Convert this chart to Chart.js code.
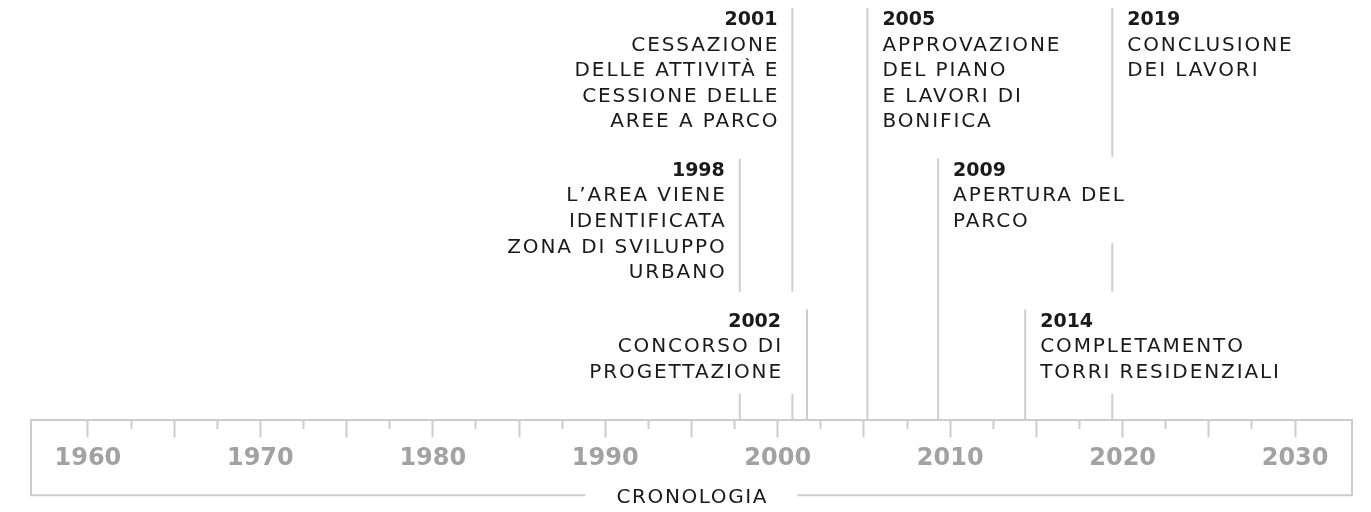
<!DOCTYPE html>
<html lang="it">
<head>
<meta charset="utf-8">
<title>Cronologia</title>
<script src="https://cdn.jsdelivr.net/npm/chart.js@4.4.1/dist/chart.umd.min.js"></script>
<style>
    html, body { margin: 0; padding: 0; background: #fff; }
    #wrap { width: 1371px; height: 512px; }
</style>
</head>
<body>
<div id="wrap"><canvas id="timeline" width="1371" height="512"></canvas></div>
<script>
// Events, in chronological order
const eventYears = ['1998', '2001', '2002', '2005', '2009', '2014', '2019'];
// where each event line sits on the axis
const eventPositions = [1997.8, 2000.85, 2001.7, 2005.2, 2009.3, 2014.35, 2019.4];
// label row: 3 = top, 2 = middle, 1 = bottom
const eventRows = [2, 3, 1, 3, 2, 1, 3];
const eventTexts = [
    ['L\u2019AREA VIENE', 'IDENTIFICATA', 'ZONA DI SVILUPPO', 'URBANO'],
    ['CESSAZIONE', 'DELLE ATTIVIT\u00c0 E', 'CESSIONE DELLE', 'AREE A PARCO'],
    ['CONCORSO DI', 'PROGETTAZIONE'],
    ['APPROVAZIONE', 'DEL PIANO', 'E LAVORI DI', 'BONIFICA'],
    ['APERTURA DEL', 'PARCO'],
    ['COMPLETAMENTO', 'TORRI RESIDENZIALI'],
    ['CONCLUSIONE', 'DEI LAVORI']
];

// Axis
const axisMin = 1956.7;
const axisMax = 2033.3;
const labelledYears = [1960, 1970, 1980, 1990, 2000, 2010, 2020, 2030];
const tickStep = 2.5;
const axisTitle = 'CRONOLOGIA';

const FONT = '"DejaVu Sans", sans-serif';
const LINE_COLOR = '#cdcdcd';
const TEXT_COLOR = '#1a1a1a';
const ROW_BOTTOM = 0.265; // y value of the axis line

// Year + description next to each event line, with a white backing that
// hides the lines of other events running behind the text
const eventLabels = {
    id: 'eventLabels',
    afterDatasetsDraw(chart, args, opts) {
        const ctx = chart.ctx;
        const xs = chart.scales.x;
        const ys = chart.scales.y;

        const blocks = eventYears.map((year, i) => {
            const lineX = xs.getPixelForValue(eventPositions[i]);
            const top = ys.getPixelForValue(eventRows[i]);
            const toLeft = eventPositions[i] < opts.splitYear;
            const gap = opts.gapOverride[year] || opts.gap;
            const lines = [year].concat(eventTexts[i]);

            let width = 0;
            lines.forEach((t, k) => {
                ctx.font = k === 0 ? opts.yearFont : opts.textFont;
                ctx.letterSpacing = k === 0 ? '0px' : opts.letterSpacing;
                width = Math.max(width, ctx.measureText(t).width);
            });
            ctx.letterSpacing = '0px';

            const anchor = toLeft ? lineX - gap : lineX + gap;
            const left = toLeft ? anchor - width : anchor;
            const lastBase = top + opts.firstBase + (lines.length - 1) * opts.lineHeight;
            return { lines, anchor, toLeft, top, left, width, lastBase, row: eventRows[i] };
        });

        ctx.save();
        ctx.fillStyle = '#ffffff';
        blocks.forEach(b => {
            const y0 = b.top - opts.maskTop[b.row];
            ctx.fillRect(b.left - opts.maskSide, y0, b.width + 2 * opts.maskSide, b.lastBase + opts.maskBottom - y0);
        });

        ctx.fillStyle = TEXT_COLOR;
        ctx.textBaseline = 'alphabetic';
        blocks.forEach(b => {
            ctx.textAlign = b.toLeft ? 'right' : 'left';
            b.lines.forEach((t, k) => {
                ctx.font = k === 0 ? opts.yearFont : opts.textFont;
                ctx.letterSpacing = k === 0 ? '0px' : opts.letterSpacing;
                // right aligned text carries the trailing letter spacing
                const shift = (b.toLeft && k > 0) ? parseFloat(opts.letterSpacing) : 0;
                ctx.fillText(t, b.anchor + shift, b.top + opts.firstBase + k * opts.lineHeight);
            });
        });
        ctx.letterSpacing = '0px';
        ctx.restore();
    }
};

// Sides and bottom of the box round the axis, broken under the title;
// the title itself is drawn here so it can be letter-spaced
const axisFrame = {
    id: 'axisFrame',
    afterDraw(chart, args, opts) {
        const ctx = chart.ctx;
        const xs = chart.scales.x;
        const top = chart.chartArea.bottom;
        const bottom = xs.bottom - opts.bottomOffset;
        const left = xs.left;
        const right = xs.right;
        const mid = (left + right) / 2;

        ctx.save();
        ctx.font = opts.titleFont;
        ctx.letterSpacing = opts.letterSpacing;
        const titleWidth = ctx.measureText(axisTitle).width - parseFloat(opts.letterSpacing);
        const half = titleWidth / 2 + opts.titleGap;

        ctx.strokeStyle = LINE_COLOR;
        ctx.lineWidth = 2;
        ctx.beginPath();
        ctx.moveTo(left, top);
        ctx.lineTo(left, bottom);
        ctx.lineTo(mid - half, bottom);
        ctx.moveTo(mid + half, bottom);
        ctx.lineTo(right, bottom);
        ctx.lineTo(right, top);
        ctx.stroke();

        ctx.fillStyle = TEXT_COLOR;
        ctx.textAlign = 'left';
        ctx.textBaseline = 'alphabetic';
        ctx.fillText(axisTitle, mid - titleWidth / 2, bottom + opts.titleBaseOffset);
        ctx.letterSpacing = '0px';
        ctx.restore();
    }
};

const datasets = eventYears.map((year, i) => ({
    label: year,
    data: [
        { x: eventPositions[i], y: eventRows[i] },
        { x: eventPositions[i], y: ROW_BOTTOM }
    ],
    borderColor: LINE_COLOR,
    borderWidth: 2,
    pointRadius: 0,
    fill: false,
    clip: false
}));

new Chart(document.getElementById('timeline'), {
    type: 'line',
    data: { datasets: datasets },
    options: {
        responsive: false,
        animation: false,
        events: [],
        layout: { padding: { left: 31, right: 19, top: 8, bottom: 3.8 } },
        plugins: {
            legend: { display: false },
            tooltip: { enabled: false },
            eventLabels: {
                splitYear: 2004,
                gap: 15,
                gapOverride: { '2002': 26 },
                firstBase: 17,
                lineHeight: 25.6,
                yearFont: 'bold 19px ' + FONT,
                textFont: '20px ' + FONT,
                letterSpacing: '1.9px',
                maskSide: 13,
                maskTop: { 1: 18, 2: 2, 3: 2 },
                maskBottom: 16
            },
            axisFrame: {
                titleFont: '20px ' + FONT,
                letterSpacing: '1.6px',
                titleGap: 31,
                bottomOffset: 13,
                titleBaseOffset: 8
            }
        },
        scales: {
            x: {
                type: 'linear',
                position: 'bottom',
                min: axisMin,
                max: axisMax,
                afterBuildTicks: scale => {
                    scale.ticks = scale.ticks.filter(t =>
                        t.value >= labelledYears[0] &&
                        t.value <= labelledYears[labelledYears.length - 1] &&
                        Math.abs(t.value / tickStep - Math.round(t.value / tickStep)) < 1e-6);
                },
                ticks: {
                    stepSize: tickStep,
                    autoSkip: false,
                    maxRotation: 0,
                    padding: 7,
                    color: '#a2a2a2',
                    font: { family: FONT, size: 24, weight: 'bold' },
                    callback: value => labelledYears.includes(value) ? String(value) : ''
                },
                grid: {
                    drawOnChartArea: false,
                    drawTicks: true,
                    tickLength: 17,
                    tickWidth: 2,
                    tickColor: LINE_COLOR,
                    tickBorderDash: ctx => (ctx.tick && ctx.tick.value % 5 !== 0) ? [8, 40] : []
                },
                border: { display: true, color: LINE_COLOR, width: 2 },
                // keeps the room for the title, which axisFrame paints
                title: {
                    display: true,
                    text: axisTitle,
                    color: 'rgba(0,0,0,0)',
                    font: { family: FONT, size: 20 },
                    padding: { top: 4, bottom: 0 }
                }
            },
            y: {
                type: 'linear',
                display: false,
                min: ROW_BOTTOM,
                max: 3
            }
        }
    },
    plugins: [eventLabels, axisFrame]
});
</script>
</body>
</html>
